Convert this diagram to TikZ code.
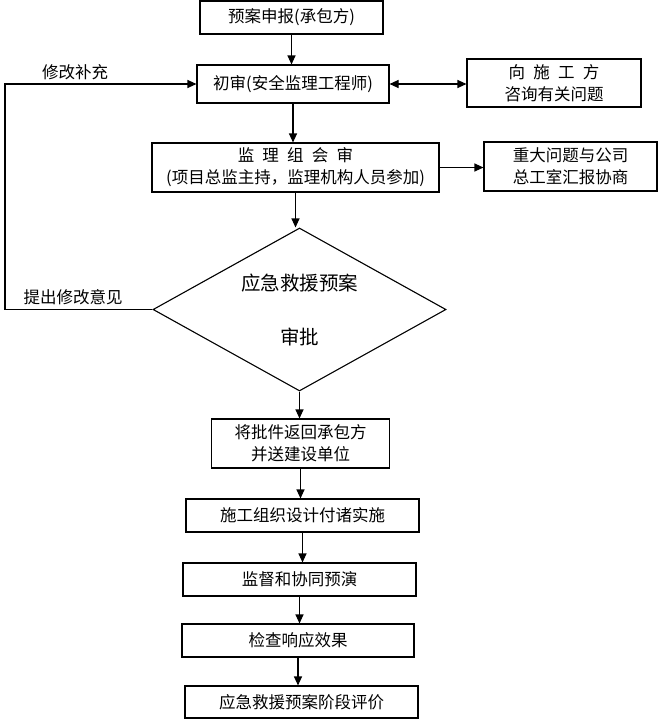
\documentclass[tikz,border=0pt]{standalone}
\usepackage{fontspec}
\newfontfamily\cjk{Noto Sans CJK SC}
\usetikzlibrary{shapes.geometric,arrows.meta}

\newcommand{\esp}{\hspace{0.5em}}

\tikzset{
  caja/.style={draw, line width=1.1pt, inner sep=0pt, align=center,
    font=\cjk\fontsize{16.5}{22}\selectfont},
  etiqueta/.style={inner sep=0pt, font=\cjk\fontsize{16.5}{20}\selectfont},
  flecha/.style={-{Triangle[length=9pt,width=8pt]}, line width=1.1pt},
  doble/.style={{Triangle[length=9pt,width=8pt]}-{Triangle[length=9pt,width=8pt]}, line width=1.1pt},
}

\begin{document}
\begin{tikzpicture}[x=1pt,y=-1pt] %Flujo de aprobacion del plan de emergencia
        \useasboundingbox (0,0) rectangle (659,720);

        \node[caja, minimum width=183pt, minimum height=33pt] (shenbao) at (291.5,17.5) {预案申报(承包方)};
        \node[caja, minimum width=192pt, minimum height=38pt] (chushen) at (293,84) {初审(安全监理工程师)};
        \node[caja, minimum width=174pt, minimum height=48pt] (zixun) at (554,83) {向\esp 施\esp 工\esp 方\\咨询有关问题};
        \node[caja, minimum width=287pt, minimum height=49pt] (huishen) at (295.5,167.5) {监\esp 理\esp 组\esp 会\esp 审\\(项目总监主持，监理机构人员参加)};
        \node[caja, minimum width=173pt, minimum height=49pt] (huibao) at (570.5,166.5) {重大问题与公司\\总工室汇报协商};

        \node[draw, diamond, aspect=1.8, line width=1.1pt, inner sep=0pt, align=center,
              minimum width=293pt, minimum height=163pt,
              font=\cjk\fontsize{19.5}{23}\selectfont] (shenpi) at (299.5,309.5) {应急救援预案\\[31pt]审批};

        \node[caja, minimum width=178pt, minimum height=49pt] (fanhui) at (300.5,443.5) {将批件返回承包方\\并送建设单位};
        \node[caja, minimum width=233pt, minimum height=33pt] (shishi) at (302.5,515.5) {施工组织设计付诸实施};
        \node[caja, minimum width=233pt, minimum height=33pt] (yanlian) at (299.5,579.5) {监督和协同预演};
        \node[caja, minimum width=232pt, minimum height=33pt] (jiancha) at (298,640.5) {检查响应效果};
        \node[caja, minimum width=233pt, minimum height=32pt] (pingjia) at (301.5,702) {应急救援预案阶段评价};

        \node[etiqueta] (xiugai) at (75,72) {修改补充};
        \node[etiqueta] (tichu) at (73,297) {提出修改意见};

        \coordinate (retorno) at (5,84);

        \draw[flecha] (shenbao.south) -- (shenbao.south |- chushen.north);
        \draw[doble] (chushen.east) -- (chushen.east -| zixun.west);
        \draw[flecha] (chushen.south) -- (chushen.south |- huishen.north);
        \draw[flecha] (huishen.east) -- (huishen.east -| huibao.west);
        \draw[flecha] (huishen.south) -- (huishen.south |- shenpi.north);
        \draw[flecha] (shenpi.west) -| (retorno) -- (chushen.west);
        \draw[flecha] (shenpi.south) -- (shenpi.south |- fanhui.north);
        \draw[flecha] (fanhui.south) -- (fanhui.south |- shishi.north);
        \draw[flecha] (shishi.south) -- (shishi.south |- yanlian.north);
        \draw[flecha] (yanlian.south) -- (yanlian.south |- jiancha.north);
        \draw[flecha] (jiancha.south) -- (jiancha.south |- pingjia.north);
    \end{tikzpicture}
\end{document}
